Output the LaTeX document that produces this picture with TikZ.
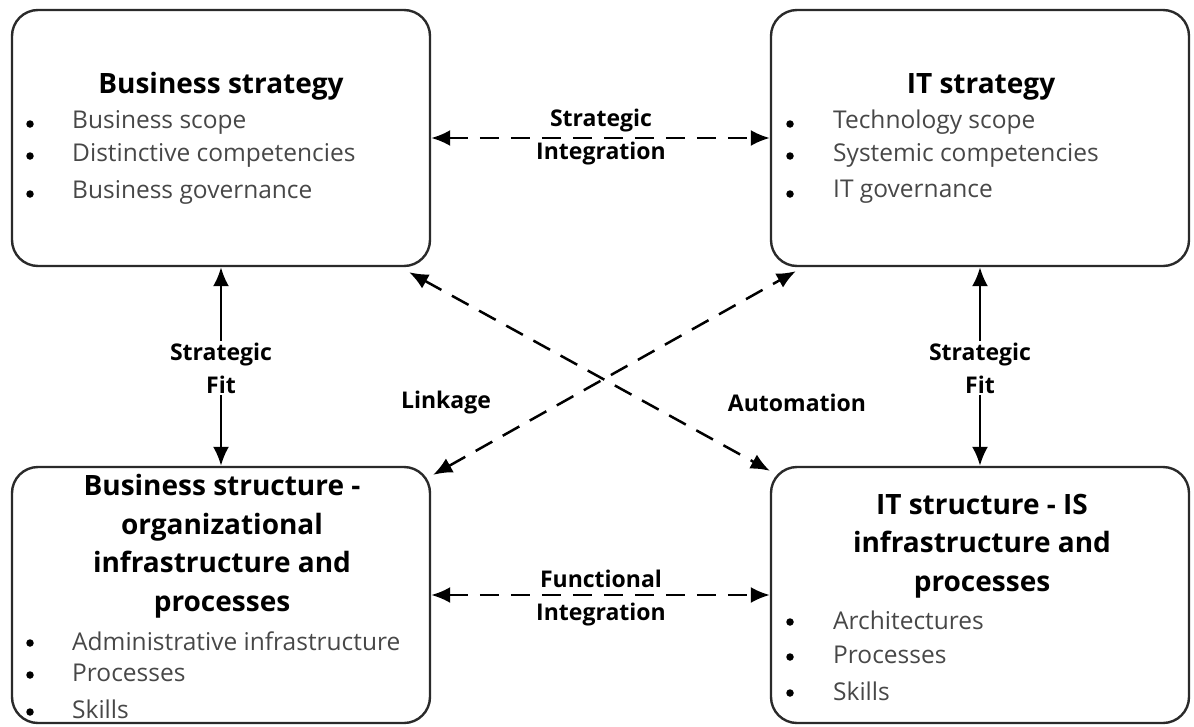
\documentclass[tikz,border=0pt]{standalone}
\usepackage{fontspec}
\setmainfont{Open Sans}
\usetikzlibrary{arrows.meta}
\definecolor{edge}{HTML}{2A2A2A}
\definecolor{itemgray}{HTML}{474747}
\tikzset{
  box/.style={draw=edge, line width=2.4pt, rounded corners=26pt, minimum width=418pt, minimum height=256pt, inner sep=0pt},
  title/.style={font=\fontsize{28}{38.5}\selectfont\bfseries, text=black, align=center, inner sep=0pt},
  item/.style={font=\fontsize{24.5}{26}\selectfont, text=itemgray, anchor=west, inner sep=0pt},
  dot/.style={circle, fill=black, minimum size=7.5pt, inner sep=0pt},
  lab/.style={font=\fontsize{23}{33}\selectfont\bfseries, text=black, align=center, inner sep=2pt},
  dar/.style={draw=black, line width=2.5pt, dash pattern=on 19pt off 12pt, {Latex[length=19pt,width=16pt]}-{Latex[length=19pt,width=16pt]}},
  sar/.style={draw=black, line width=2.5pt, {Latex[length=19pt,width=16pt]}-{Latex[length=19pt,width=16pt]}},
}
\begin{document}
\begin{tikzpicture}[x=1pt,y=-1pt]
\useasboundingbox (0,0) rectangle (1194,726);
% boxes
\node[box] (bs) at (221,138) {};
\node[box] (its) at (980,138) {};
\node[box] (bst) at (221,595) {};
\node[box] (itst) at (980,595) {};
% Business strategy
\node[title] (t1) at (221,86) {Business strategy};
\node[dot] (b11) at (30,124) {}; \node[item] (i11) at (72,122) {Business scope};
\node[dot] (b12) at (30,156) {}; \node[item] (i12) at (72,155) {Distinctive competencies};
\node[dot] (b13) at (30,194) {}; \node[item] (i13) at (72,192) {Business governance};
% IT strategy
\node[title] (t2) at (981,87) {IT strategy};
\node[dot] (b21) at (790,124) {}; \node[item] (i21) at (833,122) {Technology scope};
\node[dot] (b22) at (790,156) {}; \node[item] (i22) at (833,155) {Systemic competencies};
\node[dot] (b23) at (790,194) {}; \node[item] (i23) at (833,192) {IT governance};
% Business structure
\node[title] (t3) at (222,546) {Business structure -\\organizational\\infrastructure and\\processes};
\node[dot] (b31) at (30,643) {}; \node[item] (i31) at (72,641) {Administrative infrastructure};
\node[dot] (b32) at (30,675) {}; \node[item] (i32) at (72,673) {Processes};
\node[dot] (b33) at (30,712) {}; \node[item] (i33) at (72,709) {Skills};
% IT structure
\node[title] (t4) at (982,546) {IT structure - IS\\infrastructure and\\processes};
\node[dot] (b41) at (790,622) {}; \node[item] (i41) at (833,620) {Architectures};
\node[dot] (b42) at (790,657) {}; \node[item] (i42) at (833,655) {Processes};
\node[dot] (b43) at (790,693) {}; \node[item] (i43) at (833,691) {Skills};
% horizontal integrations
\draw[dar] (bs.east) -- (its.west);
\draw[dar] (bst.east) -- (itst.west);
\node[lab] (l1) at (601,137) {Strategic\\Integration};
\node[lab] (l2) at (601,598) {Functional\\Integration};
% strategic fit
\draw[sar] (bs.south) -- (bst.north);
\draw[sar] (its.south) -- (itst.north);
\node[lab, fill=white] (l3) at (221,368) {Strategic\\Fit};
\node[lab, fill=white] (l4) at (980,368) {Strategic\\Fit};
% diagonals
\coordinate (a1) at ([xshift=-22pt,yshift=-5pt]bs.south east);
\coordinate (a2) at ([xshift=0pt,yshift=-5pt]itst.north west);
\coordinate (c1) at ([xshift=2pt,yshift=-9pt]bst.north east);
\coordinate (c2) at ([xshift=26pt,yshift=-4pt]its.south west);
\draw[dar] (a1) -- (a2);
\draw[dar] (c1) -- (c2);
\node[lab] (l5) at (446,403) {Linkage};
\node[lab] (l6) at (797,403) {Automation};
\end{tikzpicture}
\end{document}
